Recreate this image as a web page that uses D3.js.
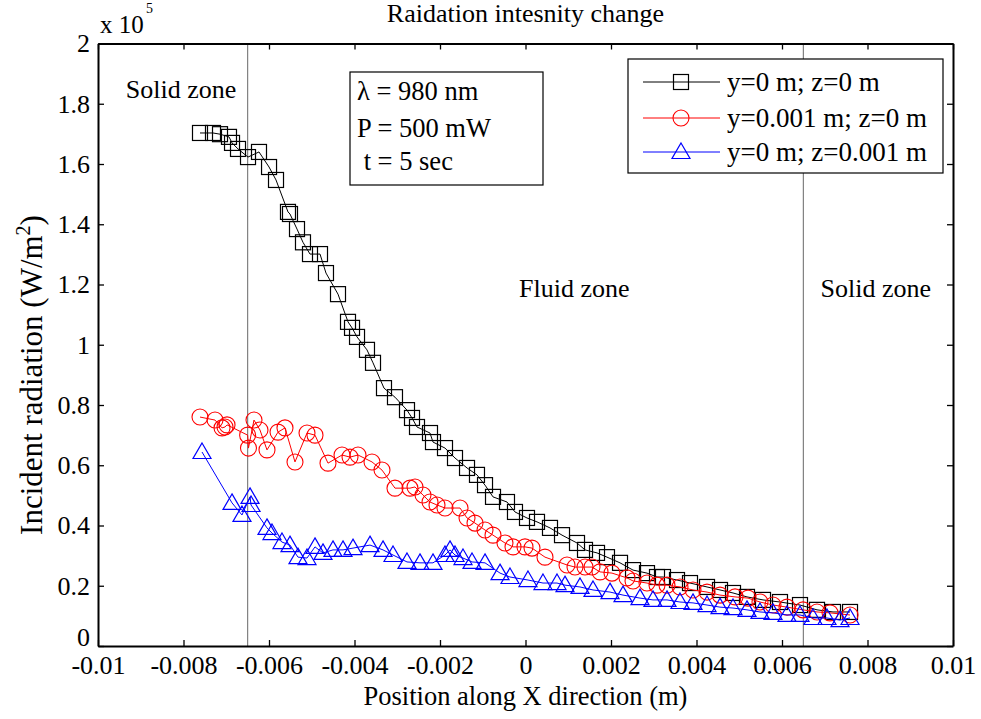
<!DOCTYPE html>
<html>
<head>
<meta charset="utf-8">
<script src="https://cdn.jsdelivr.net/npm/d3@7"></script>
<style>
  html, body { margin: 0; padding: 0; background: #fff; }
  svg { display: block; }
  text { font-family: "Liberation Serif", "Times New Roman", serif; fill: #000; }
</style>
</head>
<body>
<svg id="chart" width="981" height="719"></svg>
<script>
// ---------- DATA ----------
const chartTitle = "Raidation intesnity change";
const xLabel = "Position along X direction (m)";
const yLabelMain = "Incident radiation (W/m";
const yExponent = "5";
const seriesNames = ["y=0 m; z=0 m", "y=0.001 m; z=0 m", "y=0 m; z=0.001 m"];
const annotations = ["\u03BB = 980 nm", "P = 500 mW", " t = 5 sec"];
const zoneLabels = ["Solid zone", "Fluid zone", "Solid zone"];
const zoneX = [-0.00935, -0.00015, 0.00690];
const zoneY = [1.82, 1.16, 1.16];
const boundaryX = [-0.0065, 0.0065];
const xTicks = [-0.01, -0.008, -0.006, -0.004, -0.002, 0, 0.002, 0.004, 0.006, 0.008, 0.01];
const yTicks = [0, 0.2, 0.4, 0.6, 0.8, 1, 1.2, 1.4, 1.6, 1.8, 2];

// x in m, y in units of 1e5 W/m^2
const xBlack = [-7.614,-7.310,-7.146,-6.936,-6.865,-6.725,-6.491,-6.234,-5.999,-5.836,-5.556,-5.509,-5.345,-5.205,-5.041,-4.807,-4.667,-4.386,-4.152,-4.058,-3.941,-3.708,-3.567,-3.310,-3.053,-2.772,-2.655,-2.538,-2.234,-2.164,-1.883,-1.649,-1.368,-1.135,-0.947,-0.760,-0.433,-0.246,0.035,0.269,0.573,0.854,1.205,1.392,1.673,1.906,2.211,2.515,2.842,3.076,3.216,3.544,3.848,4.246,4.550,4.854,5.181,5.556,5.953,6.421,6.819,7.193,7.591].map(v => v / 1000);
const yBlack = [1.703,1.703,1.699,1.690,1.670,1.650,1.623,1.640,1.590,1.547,1.441,1.434,1.384,1.340,1.301,1.301,1.238,1.168,1.076,1.056,1.026,0.983,0.940,0.856,0.826,0.783,0.757,0.727,0.707,0.677,0.657,0.624,0.591,0.568,0.534,0.495,0.478,0.445,0.425,0.412,0.392,0.368,0.342,0.319,0.309,0.295,0.276,0.252,0.242,0.229,0.229,0.219,0.209,0.196,0.186,0.176,0.163,0.153,0.146,0.136,0.120,0.113,0.113];

const xRed = [-7.614,-7.263,-7.099,-7.029,-6.982,-6.500,-6.480,-6.351,-6.211,-6.047,-5.789,-5.626,-5.392,-5.111,-4.924,-4.620,-4.292,-4.105,-3.918,-3.591,-3.357,-3.053,-2.702,-2.585,-2.398,-2.234,-2.070,-1.883,-1.532,-1.368,-1.181,-0.947,-0.760,-0.480,-0.292,-0.012,0.152,0.456,0.971,1.158,1.392,1.556,1.743,2.023,2.374,2.515,2.842,3.076,3.310,3.614,3.918,4.246,4.550,4.901,5.205,5.485,5.789,6.117,6.491,6.819,7.123,7.591].map(v => v / 1000);
const yRed = [0.760,0.750,0.724,0.727,0.734,0.700,0.657,0.750,0.717,0.651,0.710,0.724,0.611,0.707,0.700,0.607,0.634,0.627,0.634,0.611,0.584,0.524,0.524,0.528,0.501,0.478,0.468,0.458,0.458,0.425,0.408,0.385,0.368,0.342,0.329,0.329,0.325,0.295,0.269,0.262,0.262,0.262,0.246,0.242,0.226,0.216,0.209,0.202,0.202,0.196,0.186,0.179,0.169,0.163,0.159,0.146,0.136,0.129,0.120,0.113,0.110,0.103];

const xBlue = [-7.567,-6.865,-6.632,-6.444,-6.420,-6.047,-5.930,-5.696,-5.509,-5.322,-5.111,-4.924,-4.737,-4.503,-4.269,-4.035,-3.637,-3.333,-3.099,-2.772,-2.468,-2.164,-1.883,-1.766,-1.649,-1.462,-1.251,-0.947,-0.596,-0.363,0.058,0.409,0.737,0.924,1.275,1.579,1.977,2.281,2.678,2.982,3.310,3.614,3.918,4.246,4.550,4.854,5.181,5.485,5.789,6.117,6.421,6.725,7.052,7.357,7.591].map(v => v / 1000);
const yBlue = [0.644,0.475,0.435,0.495,0.468,0.392,0.375,0.345,0.335,0.295,0.292,0.329,0.309,0.319,0.319,0.325,0.335,0.319,0.302,0.279,0.276,0.276,0.302,0.319,0.302,0.292,0.279,0.276,0.242,0.229,0.219,0.209,0.209,0.202,0.196,0.186,0.179,0.169,0.159,0.153,0.153,0.146,0.143,0.136,0.129,0.126,0.120,0.113,0.110,0.103,0.103,0.093,0.093,0.086,0.093];

const seriesColors = ["#000000", "#ff0000", "#0000ff"];
const seriesMarkers = ["square", "circle", "triangle"];

// ---------- LAYOUT ----------
const svg = d3.select("#chart");
const pL = 98, pR = 953, pT = 43.5, pB = 646;
const x = d3.scaleLinear().domain([-0.01, 0.01]).range([pL, pR]);
const y = d3.scaleLinear().domain([0, 2]).range([pB, pT]);
const FS = 26;

// boundary lines
svg.append("g").selectAll("line").data(boundaryX).join("line")
  .attr("x1", d => x(d)).attr("x2", d => x(d))
  .attr("y1", pT).attr("y2", pB)
  .attr("stroke", "#808080").attr("stroke-width", 1.2);

// axes
const fmt = d => String(+d.toFixed(3));
const gx = svg.append("g").attr("transform", `translate(0,${pB})`)
  .call(d3.axisBottom(x).tickValues(xTicks).tickFormat(fmt).tickSizeInner(-6).tickSizeOuter(0).tickPadding(10));
const gy = svg.append("g").attr("transform", `translate(${pL},0)`)
  .call(d3.axisLeft(y).tickValues(yTicks).tickFormat(d => String(+d.toFixed(1))).tickSizeInner(-6).tickSizeOuter(0).tickPadding(8));
const gxt = svg.append("g").attr("transform", `translate(0,${pT})`)
  .call(d3.axisTop(x).tickValues(xTicks).tickFormat("").tickSizeInner(-6).tickSizeOuter(0));
const gyr = svg.append("g").attr("transform", `translate(${pR},0)`)
  .call(d3.axisRight(y).tickValues(yTicks).tickFormat("").tickSizeInner(-6).tickSizeOuter(0));
[gx, gy, gxt, gyr].forEach(g => {
  g.selectAll("text").style("font-family", "Liberation Serif").style("font-size", FS + "px").attr("fill", "#000");
  g.selectAll("line").attr("stroke", "#000").attr("stroke-width", 1.3);
  g.select(".domain").attr("stroke", "#000").attr("stroke-width", 2);
});
// nudge the y "0" label up so it clears the x labels
gy.selectAll(".tick").filter(d => d === 0).select("text").attr("dy", "-0.03em");

// series
function drawMarker(sel, type, color) {
  if (type === "square") {
    sel.append("rect").attr("x", -7.5).attr("y", -7.5).attr("width", 15).attr("height", 15)
      .attr("fill", "none").attr("stroke", color).attr("stroke-width", 1.2);
  } else if (type === "circle") {
    sel.append("circle").attr("r", 8).attr("fill", "none").attr("stroke", color).attr("stroke-width", 1.1);
  } else {
    sel.append("path").attr("d", "M0,-9 L9,6.5 L-9,6.5 Z")
      .attr("fill", "none").attr("stroke", color).attr("stroke-width", 1.2);
  }
}
const allSeries = [[xBlack, yBlack], [xRed, yRed], [xBlue, yBlue]];
const line = d3.line().x(d => x(d[0])).y(d => y(d[1]));
allSeries.forEach(([xs, ys], i) => {
  const pts = xs.map((v, k) => [v, ys[k]]);
  const g = svg.append("g");
  g.append("path").datum(pts).attr("d", line).attr("fill", "none")
    .attr("stroke", seriesColors[i]).attr("stroke-width", 1);
  g.selectAll("g.m").data(pts).join("g").attr("class", "m")
    .attr("transform", d => `translate(${x(d[0])},${y(d[1])})`)
    .each(function () { drawMarker(d3.select(this), seriesMarkers[i], seriesColors[i]); });
});

// title
svg.append("text").attr("x", (pL + pR) / 2).attr("y", 22).attr("text-anchor", "middle")
  .style("font-size", "26px").text(chartTitle);

// x label
svg.append("text").attr("x", (pL + pR) / 2).attr("y", 705).attr("text-anchor", "middle")
  .style("font-size", "26.5px").text(xLabel);

// y label
const yl = svg.append("text").attr("transform", "translate(42,375) rotate(-90)").attr("text-anchor", "middle")
  .style("font-size", "31px");
yl.append("tspan").text(yLabelMain);
yl.append("tspan").attr("dy", -12).style("font-size", "20px").text("2");
yl.append("tspan").attr("dy", 12).text(")");

// x 10^5
const ex = svg.append("text").attr("x", 100).attr("y", 33).style("font-size", "25px");
ex.append("tspan").text("x 10");
ex.append("tspan").attr("x", 146).attr("y", 13).style("font-size", "14px").text(yExponent);

// zone labels
svg.append("g").selectAll("text").data(zoneLabels).join("text")
  .attr("x", (d, i) => x(zoneX[i])).attr("y", (d, i) => y(zoneY[i]))
  .style("font-size", FS + "px").text(d => d);

// annotation box
svg.append("rect").attr("x", 350).attr("y", 72).attr("width", 193).attr("height", 113)
  .attr("fill", "#fff").attr("stroke", "#000").attr("stroke-width", 1.2);
svg.append("g").selectAll("text").data(annotations).join("text")
  .attr("x", 357).attr("y", (d, i) => [100, 137, 170][i])
  .attr("xml:space", "preserve").style("white-space", "pre")
  .style("font-size", "26.5px").text(d => d);

// legend
const lg = svg.append("g");
lg.append("rect").attr("x", 628).attr("y", 59).attr("width", 315).attr("height", 114)
  .attr("fill", "#fff").attr("stroke", "#000").attr("stroke-width", 1.2);
const rowY = [82, 118, 152];
seriesNames.forEach((name, i) => {
  lg.append("line").attr("x1", 643).attr("x2", 720).attr("y1", rowY[i]).attr("y2", rowY[i])
    .attr("stroke", seriesColors[i]).attr("stroke-width", 1);
  const m = lg.append("g").attr("transform", `translate(681,${rowY[i]})`);
  drawMarker(m, seriesMarkers[i], seriesColors[i]);
  lg.append("text").attr("x", 727).attr("y", rowY[i] + 9).style("font-size", "27px").text(name);
});
</script>
</body>
</html>
